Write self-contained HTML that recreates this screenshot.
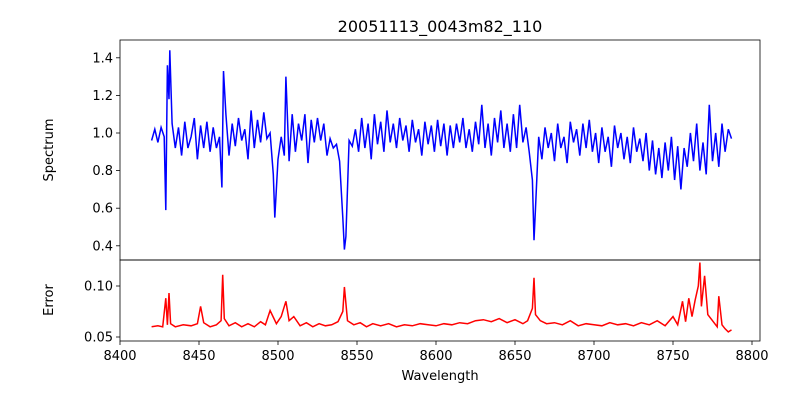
<!DOCTYPE html>
<html><head><meta charset="utf-8"><style>
body{margin:0;background:#fff;font-family:"DejaVu Sans","Liberation Sans",sans-serif}
svg text{font-family:"DejaVu Sans","Liberation Sans",sans-serif;fill:#000}
</style></head><body>
<svg id="chart" width="800" height="400" viewBox="0 0 800 400">
<rect width="800" height="400" fill="#fff"/>
<text x="440" y="32" font-size="16" text-anchor="middle">20051113_0043m82_110</text>
<g id="topPanel"></g>
<g id="botPanel"></g>
<text x="440" y="380" font-size="13" text-anchor="middle">Wavelength</text>
<text transform="translate(53,150) rotate(-90)" font-size="13" text-anchor="middle">Spectrum</text>
<text transform="translate(53,300) rotate(-90)" font-size="13" text-anchor="middle">Error</text>
</svg>
<script>
const specW=[8420,8422,8424,8426,8428,8429,8430,8431,8431.5,8433,8435,8437,8439,8441,8443,8445,8447,8449,8451,8453,8455,8457,8459,8461,8463,8464.5,8465.5,8467,8469,8471,8473,8475,8477,8479,8481,8483,8485,8487,8489,8491,8493,8495,8497,8498,8500,8502,8504,8505,8507,8509,8511,8513,8515,8517,8519,8521,8523,8525,8527,8529,8531,8533,8535,8537,8539,8541,8542,8543,8545,8547,8549,8551,8553,8555,8557,8559,8561,8563,8565,8567,8569,8571,8573,8575,8577,8579,8581,8583,8585,8587,8589,8591,8593,8595,8597,8599,8601,8603,8605,8607,8609,8611,8613,8615,8617,8619,8621,8623,8625,8627,8629,8631,8633,8635,8637,8639,8641,8643,8645,8647,8649,8651,8653,8655,8657,8659,8661,8662,8663,8665,8667,8669,8671,8673,8675,8677,8679,8681,8683,8685,8687,8689,8691,8693,8695,8697,8699,8701,8703,8705,8707,8709,8711,8713,8715,8717,8719,8721,8723,8725,8727,8729,8731,8733,8735,8737,8739,8741,8743,8745,8747,8749,8751,8753,8755,8757,8759,8761,8763,8765,8767,8769,8771,8773,8775,8777,8779,8781,8783,8785,8787];
const specV=[0.96,1.02,0.95,1.03,0.98,0.59,1.36,1.18,1.44,1.05,0.92,1.03,0.88,1.06,0.92,0.98,1.08,0.86,1.04,0.92,1.06,0.90,1.03,0.92,0.98,0.71,1.33,1.10,0.88,1.05,0.93,1.08,0.96,1.02,0.86,1.12,0.92,1.07,0.95,1.11,0.97,1.00,0.78,0.55,0.86,0.98,0.88,1.30,0.85,1.10,0.90,1.05,0.96,1.10,0.84,1.07,0.95,1.08,0.96,1.05,0.88,0.97,0.92,0.94,0.85,0.55,0.38,0.45,0.96,0.93,1.02,0.90,1.08,0.92,1.05,0.86,1.10,0.94,1.06,0.90,1.12,0.95,1.05,0.92,1.08,0.96,1.04,0.90,1.07,0.95,1.02,0.88,1.06,0.94,1.04,0.90,1.07,0.93,1.05,0.88,1.04,0.92,1.05,0.95,1.08,0.92,1.02,0.90,1.06,0.94,1.15,0.92,1.05,0.88,1.08,0.95,1.12,0.92,1.05,0.90,1.10,0.92,1.15,0.95,1.03,0.90,0.75,0.43,0.60,0.98,0.86,1.03,0.92,1.00,0.85,1.05,0.92,0.98,0.84,1.06,0.95,1.02,0.88,1.05,0.92,1.07,0.90,1.00,0.84,1.03,0.90,0.98,0.82,1.04,0.92,1.00,0.86,0.98,0.84,1.03,0.90,0.97,0.85,1.00,0.80,0.96,0.78,0.92,0.76,0.95,0.80,0.98,0.75,0.93,0.70,0.92,0.82,1.00,0.85,1.05,0.80,0.95,0.78,1.15,0.85,1.00,0.82,1.05,0.90,1.02,0.97];
const errW=[8420,8424,8427,8429,8430,8431,8432,8435,8440,8445,8449,8451,8453,8457,8461,8464,8465,8466,8469,8473,8477,8481,8485,8489,8492,8495,8499,8502,8505,8507,8510,8514,8518,8522,8526,8530,8534,8538,8541,8542,8544,8548,8552,8556,8560,8565,8570,8575,8580,8585,8590,8595,8600,8605,8610,8615,8620,8625,8630,8635,8640,8645,8650,8655,8658,8661,8662,8663,8666,8670,8675,8680,8685,8690,8695,8700,8705,8710,8715,8720,8725,8730,8735,8740,8745,8750,8753,8756,8758,8760,8762,8764,8766,8767,8768,8770,8772,8775,8778,8779,8781,8783,8785,8787];
const errV=[0.060,0.061,0.060,0.088,0.062,0.093,0.063,0.060,0.062,0.061,0.063,0.080,0.064,0.060,0.062,0.066,0.111,0.068,0.061,0.064,0.060,0.063,0.060,0.065,0.062,0.076,0.063,0.070,0.085,0.066,0.070,0.061,0.064,0.060,0.063,0.061,0.062,0.065,0.075,0.099,0.066,0.062,0.064,0.060,0.063,0.061,0.063,0.060,0.062,0.061,0.063,0.062,0.061,0.063,0.062,0.064,0.063,0.066,0.067,0.065,0.068,0.064,0.067,0.063,0.066,0.078,0.108,0.072,0.066,0.063,0.064,0.062,0.066,0.061,0.063,0.062,0.061,0.064,0.062,0.063,0.061,0.064,0.062,0.066,0.061,0.070,0.062,0.085,0.065,0.088,0.070,0.086,0.100,0.123,0.080,0.110,0.072,0.066,0.060,0.090,0.062,0.058,0.055,0.057];
const xTicks=[8400,8450,8500,8550,8600,8650,8700,8750,8800];
const topTicks=[0.4,0.6,0.8,1.0,1.2,1.4];
const botTicks=[0.05,0.10];
const NS="http://www.w3.org/2000/svg";
const X0=120,X1=760;
const sx=w=>120+(w-8400)*632/400;
const syT=v=>133-(v-1.0)*188;
const syB=v=>337-(v-0.05)*1020;
function mk(t,a,p){const e=document.createElementNS(NS,t);for(const k in a)e.setAttribute(k,a[k]);p.appendChild(e);return e;}
const gTop=document.getElementById('topPanel'),gBot=document.getElementById('botPanel');
function panel(g,y0,y1,ws,vs,sy,col,ticks,fmt,lbl){
  const cid='c'+lbl;
  const cp=mk('clipPath',{id:cid},g);mk('rect',{x:X0,y:y0,width:X1-X0,height:y1-y0},cp);
  const n=Math.min(ws.length,vs.length);
  const pts=[];
  for(let i=0;i<n;i++)pts.push(sx(ws[i]).toFixed(1)+','+sy(vs[i]).toFixed(1));
  const line=mk('polyline',{points:pts.join(' '),fill:'none',stroke:col,'stroke-width':1.5,'clip-path':'url(#'+cid+')'},g);
  
  
  ticks.forEach(t=>{const y=sy(t);
    const tk=mk('line',{x1:X0-4,x2:X0,y1:y,y2:y,stroke:'#000','stroke-width':0.8},g);
    
    
    const tx=mk('text',{x:X0-7,y:y+4.5,'font-size':13,'text-anchor':'end'},g);tx.textContent=fmt(t);
    
    
  });
  const fr=mk('rect',{x:X0,y:y0,width:X1-X0,height:y1-y0,fill:'none',stroke:'#000','stroke-width':0.8},g);
  
  
}
panel(gTop,40,260,specW,specV,syT,'#0000ff',topTicks,t=>t.toFixed(1),'spectrum');
panel(gBot,260,341,errW,errV,syB,'#ff0000',botTicks,t=>t.toFixed(2),'error');
xTicks.forEach(t=>{const x=sx(t);
  const tk=mk('line',{x1:x,x2:x,y1:341,y2:345,stroke:'#000','stroke-width':0.8},gBot);
  
  
  const tx=mk('text',{x:x,y:360,'font-size':13,'text-anchor':'middle'},gBot);tx.textContent=t;
  
  
});
</script>
</body></html>
